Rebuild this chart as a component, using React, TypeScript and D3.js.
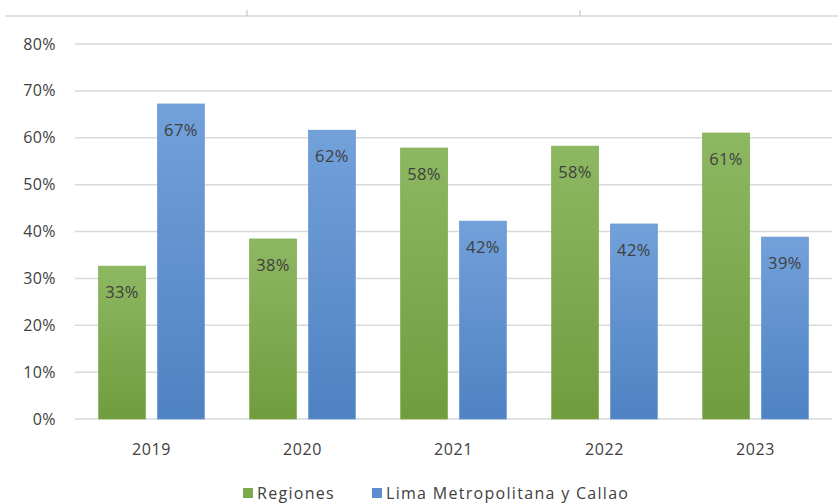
import React from "react";
import * as d3 from "d3";

const years = ["2019", "2020", "2021", "2022", "2023"];
const regiones = [0.326, 0.384, 0.578, 0.582, 0.61];
const lima = [0.672, 0.616, 0.422, 0.416, 0.388];
const regionesLabels = ["33%", "38%", "58%", "58%", "61%"];
const limaLabels = ["67%", "62%", "42%", "42%", "39%"];
const yTicks = [0, 0.1, 0.2, 0.3, 0.4, 0.5, 0.6, 0.7, 0.8];
const seriesNames = ["Regiones", "Lima Metropolitana y Callao"];

const W = 838;
const H = 504;
const font = "'Open Sans', 'Noto Sans', sans-serif";

export default function App() {
  const x = d3.scaleBand<string>().domain(years).range([76, 831]).paddingInner(0).paddingOuter(0);
  const y = d3.scaleLinear().domain([0, 0.8]).range([419, 44]);
  const band = x.bandwidth();
  const barW = band * 0.31;
  const gap = band * 0.08;
  const inner = x.bandwidth() / 2;
  const pct = d3.format(".0%");
  const textColor = "#404040";

  return (
    <svg width={W} height={H} style={{ position: "absolute", left: 0, top: 0, background: "#fff" }}>
      <defs>
        <linearGradient id="gGreen" x1="0" y1="0" x2="0" y2="1">
          <stop offset="0" stopColor="#8db862" />
          <stop offset="1" stopColor="#6f9d3e" />
        </linearGradient>
        <linearGradient id="gBlue" x1="0" y1="0" x2="0" y2="1">
          <stop offset="0" stopColor="#72a1da" />
          <stop offset="1" stopColor="#4f82c3" />
        </linearGradient>
      </defs>
      {/* top frame remnant */}
      <line x1={5} x2={838} y1={16} y2={16} stroke="#d9d9d9" strokeWidth={1.5} />
      <line x1={247} x2={247} y1={10} y2={16} stroke="#bfbfbf" />
      <line x1={580} x2={580} y1={10} y2={16} stroke="#bfbfbf" />
      {yTicks.map((t) => (
        <g key={t}>
          <line x1={75} x2={832} y1={y(t)} y2={y(t)} stroke="#d9d9d9" strokeWidth={1.5} />
          <text x={56} y={y(t)} dy="0.35em" textAnchor="end" fontSize={16} letterSpacing={0.4} fill={textColor} fontFamily={font}>
            {pct(t)}
          </text>
        </g>
      ))}
      {years.map((yr, i) => {
        const cx = (x(yr) as number) + inner;
        const gx = cx - gap / 2 - barW;
        const bx = cx + gap / 2;
        return (
          <g key={yr}>
            <rect x={gx} y={y(regiones[i])} width={barW} height={y(0) - y(regiones[i])} fill="url(#gGreen)" stroke="#7fae52" strokeWidth={0.8} />
            <rect x={bx} y={y(lima[i])} width={barW} height={y(0) - y(lima[i])} fill="url(#gBlue)" stroke="#6a9ad4" strokeWidth={0.8} />
            <text x={gx + barW / 2} y={y(regiones[i]) + 32} textAnchor="middle" fontSize={16.5} letterSpacing={0.4} fill={textColor} fontFamily={font}>
              {regionesLabels[i]}
            </text>
            <text x={bx + barW / 2} y={y(lima[i]) + 32} textAnchor="middle" fontSize={16.5} letterSpacing={0.4} fill={textColor} fontFamily={font}>
              {limaLabels[i]}
            </text>
            <text x={cx} y={455} textAnchor="middle" fontSize={16} letterSpacing={0.6} fill={textColor} fontFamily={font}>
              {yr}
            </text>
          </g>
        );
      })}
      <g>
        <rect x={243} y={488} width={10} height={10} fill="#7caa4d" />
        <text x={257} y={499} fontSize={16} letterSpacing={1.3} fill={textColor} fontFamily={font}>{seriesNames[0]}</text>
        <rect x={372} y={488} width={10} height={10} fill="#5b8fd0" />
        <text x={386} y={499} fontSize={16} letterSpacing={1.3} fill={textColor} fontFamily={font}>{seriesNames[1]}</text>
      </g>
    </svg>
  );
}
